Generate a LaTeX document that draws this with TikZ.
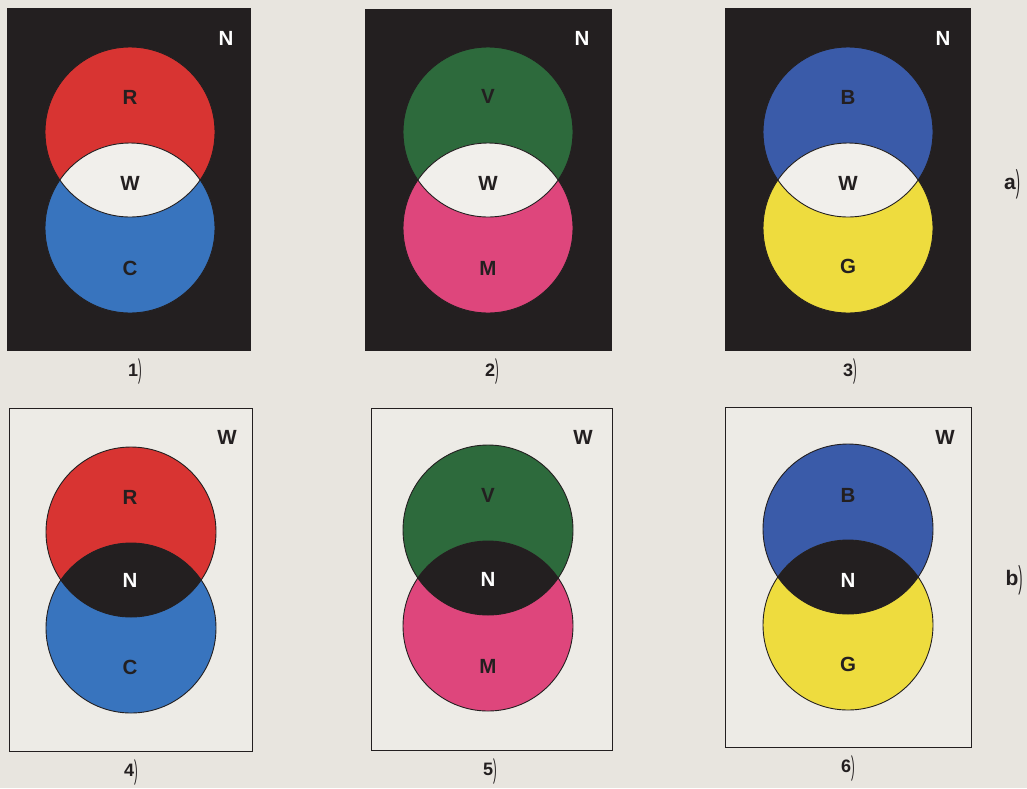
\documentclass[tikz,border=0pt]{standalone}
\usepackage{fontspec}
\setmainfont{Liberation Sans}
\definecolor{paper}{HTML}{E8E5DF}
\definecolor{panelin}{HTML}{EDEBE6}
\definecolor{ink}{HTML}{231F20}
\definecolor{lenswhite}{HTML}{F1EFEB}
\definecolor{cred}{HTML}{D83432}
\definecolor{ccyan}{HTML}{3874BE}
\definecolor{cgreen}{HTML}{2D6A3C}
\definecolor{cmag}{HTML}{DE467C}
\definecolor{cblue}{HTML}{3A5BA9}
\definecolor{cyel}{HTML}{EEDC3E}
\tikzset{
  outl/.style={draw=ink, line width=0.9pt},
  lbl/.style={font=\fontsize{20.5}{20.5}\selectfont\bfseries, text=ink, inner sep=0pt},
  lblw/.style={lbl, text=white},
  numlbl/.style={font=\fontsize{18}{18}\selectfont\bfseries, text=ink, inner sep=0pt},
  sidelbl/.style={font=\fontsize{21}{21}\selectfont\bfseries, text=ink, inner sep=0pt},
}
\newcommand\venn[6]{%
  \fill[#4] (#1,#2) circle[radius=85];
  \fill[#5] (#1,#3) circle[radius=85];
  \begin{scope}
    \clip (#1,#2) circle[radius=85];
    \fill[#6] (#1,#3) circle[radius=85];
  \end{scope}
  \draw[outl] (#1,#2) circle[radius=85] (#1,#3) circle[radius=85];
}
\newcommand\paren{\raisebox{-0.15em}{\scalebox{0.6}[1.5]{\mdseries)}}}
\begin{document}
\begin{tikzpicture}[x=1pt,y=-1pt]
\fill[paper] (0,0) rectangle (1027,788);
\useasboundingbox (0,0) rectangle (1027,788);
% top row panels
\fill[ink] (7,8) rectangle (251,351);
\fill[ink] (365,9) rectangle (612,351);
\fill[ink] (725,8) rectangle (971,351);
% bottom row panels
\filldraw[fill=panelin, draw=ink, line width=0.9pt] (9,408) rectangle (252,751);
\filldraw[fill=panelin, draw=ink, line width=0.9pt] (371,408) rectangle (612,750);
\filldraw[fill=panelin, draw=ink, line width=0.9pt] (725,407) rectangle (971,747);
% circles
\venn{130}{132}{228}{cred}{ccyan}{lenswhite}
\venn{488}{132}{228}{cgreen}{cmag}{lenswhite}
\venn{848}{132}{228}{cblue}{cyel}{lenswhite}
\venn{131}{532}{628}{cred}{ccyan}{ink}
\venn{488}{530}{626}{cgreen}{cmag}{ink}
\venn{848}{529}{625}{cblue}{cyel}{ink}
% labels panel 1
\node[lblw] (n1) at (226,38) {N};
\node[lbl] (r1) at (130,97) {R};
\node[lbl] (w1) at (130,183) {W};
\node[lbl] (c1) at (130,268) {C};
\node[numlbl] (p1) at (135,372) {1\paren};
% panel 2
\node[lblw] (n2) at (582,38) {N};
\node[lbl] (v2) at (488,96) {V};
\node[lbl] (w2) at (488,183) {W};
\node[lbl] (m2) at (488,268) {M};
\node[numlbl] (p2) at (492,372) {2\paren};
% panel 3
\node[lblw] (n3) at (943,38) {N};
\node[lbl] (b3) at (848,97) {B};
\node[lbl] (w3) at (848,183) {W};
\node[lbl] (g3) at (848,266) {G};
\node[numlbl] (p3) at (850,372) {3\paren};
\node[sidelbl] (sa) at (1012,184) {a\paren};
% panel 4
\node[lbl] (w4) at (227,437) {W};
\node[lbl] (r4) at (130,497) {R};
\node[lblw] (n4) at (130,580) {N};
\node[lbl] (c4) at (130,667) {C};
\node[numlbl] (p4) at (131,772) {4\paren};
% panel 5
\node[lbl] (w5) at (583,437) {W};
\node[lbl] (v5) at (488,495) {V};
\node[lblw] (n5) at (488,579) {N};
\node[lbl] (m5) at (488,666) {M};
\node[numlbl] (p5) at (490,771) {5\paren};
% panel 6
\node[lbl] (w6) at (945,437) {W};
\node[lbl] (b6) at (848,495) {B};
\node[lblw] (n6) at (848,580) {N};
\node[lbl] (g6) at (848,664) {G};
\node[numlbl] (p6) at (848,768) {6\paren};
\node[sidelbl] (sb) at (1014,580) {b\paren};
\end{tikzpicture}
\end{document}
